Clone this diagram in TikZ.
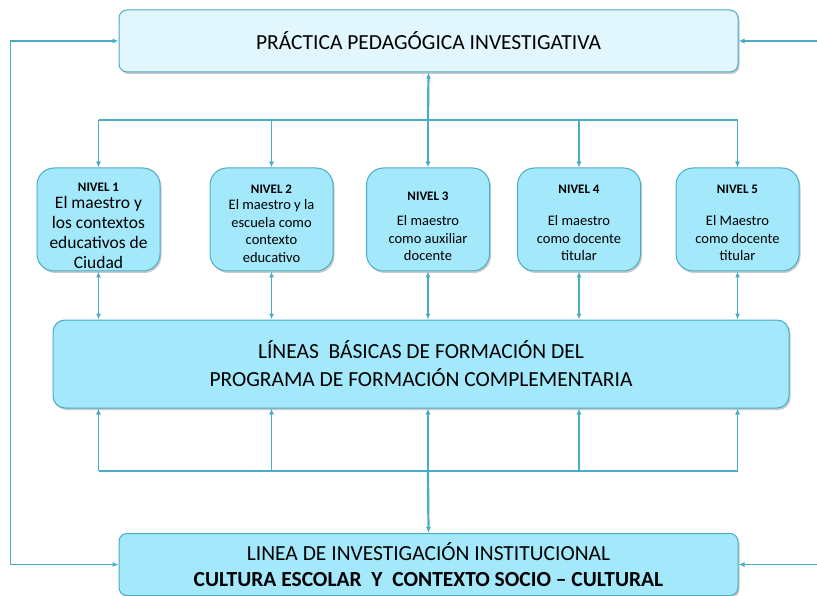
\documentclass[tikz,border=0pt]{standalone}
\usepackage{fontspec}
\setmainfont{Carlito}
\usetikzlibrary{arrows.meta,shadows}
\definecolor{edgeC}{HTML}{4BACC6}
\definecolor{lightF}{HTML}{E2F6FD}
\definecolor{boxF}{HTML}{A3E9FB}
\begin{document}
\begin{tikzpicture}[x=1pt,y=-1pt,
  bx/.style={draw=edgeC,line width=1pt,align=center,inner sep=0pt,
    drop shadow={shadow xshift=1.5pt,shadow yshift=-2pt,opacity=0.35,fill=black!60}},
  lvl/.style={bx,fill=boxF,rounded corners=17pt,minimum width=123pt,minimum height=103pt},
  conn/.style={draw=edgeC,line width=1.1pt},
  tip/.style={-{Latex[length=6pt,width=5pt]}},
  dtip/.style={{Latex[length=6pt,width=5pt]}-{Latex[length=6pt,width=5pt]}},
  lv/.style={font=\bfseries\fontsize{13}{15}\selectfont},
  body/.style={font=\fontsize{14.5}{17.5}\selectfont,align=center,inner sep=0pt}
]
\useasboundingbox (0,0) rectangle (817,596);
% boxes
\node[bx,fill=lightF,rounded corners=8pt,minimum width=619pt,minimum height=62pt,
  font=\fontsize{21.5}{24}\selectfont] (top) at (428.5,41) {PRÁCTICA PEDAGÓGICA INVESTIGATIVA};
\node[bx,fill=boxF,rounded corners=12pt,minimum width=736pt,minimum height=88pt,
  font=\fontsize{21.5}{28}\selectfont] (mid) at (421,364)
  {LÍNEAS\ \ BÁSICAS DE FORMACIÓN DEL\\PROGRAMA DE FORMACIÓN COMPLEMENTARIA};
\node[bx,fill=boxF,rounded corners=8pt,minimum width=619pt,minimum height=62pt,
  font=\fontsize{21.5}{26}\selectfont] (bot) at (428.5,564.5)
  {LINEA DE INVESTIGACIÓN INSTITUCIONAL\\\textbf{CULTURA ESCOLAR\ \ Y\ \ CONTEXTO SOCIO – CULTURAL}};
% levels
\node[lvl] (n1) at (98.5,219.5) {};
\node[lv] (t1) at (98.5,187) {NIVEL 1};
\node[body,font=\fontsize{17.5}{20}\selectfont] (b1) at (98.5,232) {El maestro y\\los contextos\\educativos de\\Ciudad};
\node[lvl] (n2) at (271.5,219.5) {};
\node[lv] (t2) at (271.5,189) {NIVEL 2};
\node[body] (b2) at (271.5,231) {El maestro y la\\escuela como\\contexto\\educativo};
\node[lvl] (n3) at (428,219.5) {};
\node[lv] (t3) at (428,196) {NIVEL 3};
\node[body] (b3) at (428,238.5) {El maestro\\como auxiliar\\docente};
\node[lvl] (n4) at (579,219.5) {};
\node[lv] (t4) at (579,189) {NIVEL 4};
\node[body] (b4) at (579,238.5) {El maestro\\como docente\\titular};
\node[lvl] (n5) at (737.5,219.5) {};
\node[lv] (t5) at (737.5,189) {NIVEL 5};
\node[body] (b5) at (737.5,238.5) {El Maestro\\como docente\\titular};
% top bus
\coordinate (ub) at (428,120);
\draw[conn] (n1.north |- ub) -- (n5.north |- ub);
\foreach \n in {n1,n2,n3,n4,n5} \draw[conn,tip] (\n.north |- ub) -- (\n.north);
\draw[conn,line width=2.2pt,tip] (ub) -- (top.south);
% level to mid
\foreach \n in {n1,n2,n3,n4,n5} \draw[conn,dtip] (\n.south) -- (\n.south |- mid.north);
% lower bus
\coordinate (lb) at (428,471);
\draw[conn] (n1.south |- lb) -- (n5.south |- lb);
\foreach \n in {n1,n2,n3,n4,n5} \draw[conn,tip] (\n.south |- lb) -- (\n.south |- mid.south);
\draw[conn,line width=2.2pt,tip] (lb) -- (bot.north);
% side loops
\draw[conn,dtip] (top.west) -- ++(-108,0) |- (bot.west);
\coordinate (r1) at (817,41);
\coordinate (r2) at (817,564.5);
\draw[conn,tip] (r1) -- (top.east);
\draw[conn,tip] (r2) -- (bot.east);
\end{tikzpicture}
\end{document}
